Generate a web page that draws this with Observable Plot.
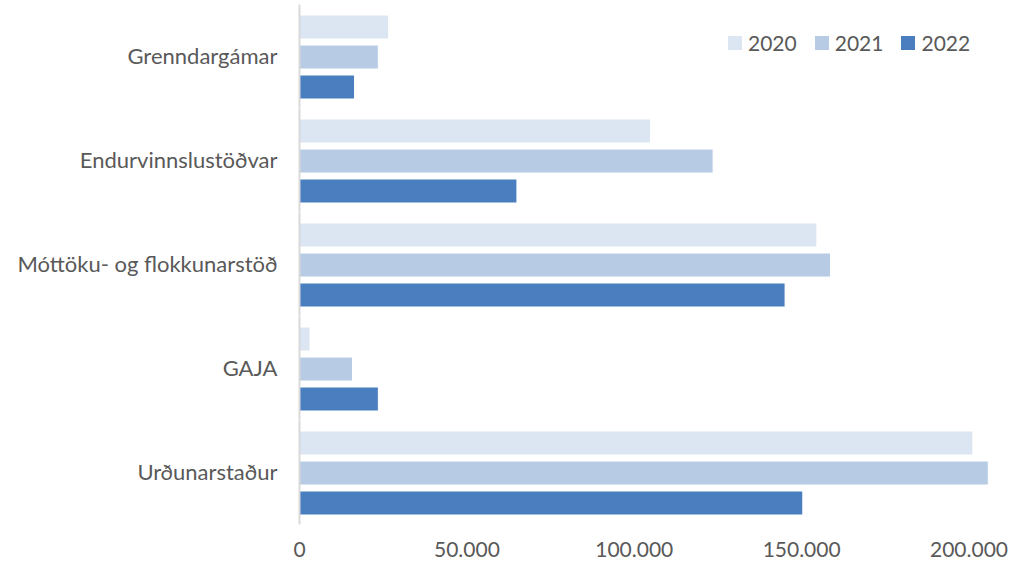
<!DOCTYPE html>
<html><head><meta charset="utf-8">
<script src="https://cdn.jsdelivr.net/npm/d3@7"></script>
<script src="https://cdn.jsdelivr.net/npm/@observablehq/plot@0.6"></script>
<style>
body{margin:0;background:#fff;font-family:Lato,"Open Sans",sans-serif;}
#wrap{position:relative;width:1019px;height:569px;overflow:hidden;}
#legend{position:absolute;left:728px;top:31px;display:flex;align-items:center;font-size:21px;color:#595959;line-height:24px;}
#legend .item{display:flex;align-items:center;margin-right:18px;}
#legend .sw{width:14px;height:14px;margin-right:6px;}
</style></head><body>
<div id="wrap"><div id="chart"></div><div id="legend"></div></div>
<script>
const categories = ["Grenndargámar","Endurvinnslustöðvar","Móttöku- og flokkunarstöð","GAJA","Urðunarstaður"];
const years = ["2020","2021","2022"];
const v2020 = [26800,105000,154700,3300,201300];
const v2021 = [23700,123700,158800,16000,205900];
const v2022 = [16600,65100,145200,23700,150500];
const xTicks = [0,50000,100000,150000,200000];
const colors = ["#DCE6F2","#B7CCE4","#4A7EBF"];

const series = [v2020, v2021, v2022];
const data = [];
categories.forEach((c, i) => years.forEach((y, j) => data.push({category: c, year: y, value: series[j][i]})));

const loc = d3.formatLocale({decimal: ",", thousands: ".", grouping: [3], currency: ["", ""]});
const fmt = loc.format(",.0f");

const chart = Plot.plot({
  width: 1019, height: 569,
  marginLeft: 299, marginRight: 17, marginTop: 5, marginBottom: 44,
  style: {fontFamily: "Lato, 'Open Sans', sans-serif", fontSize: "21px", color: "#595959", background: "white"},
  x: {domain: [0, 210000], axis: null},
  fy: {domain: categories, paddingInner: 0.18, paddingOuter: 0.09, label: null, axis: null},
  y: {domain: years, paddingInner: 0.21, paddingOuter: 0, axis: null},
  color: {domain: years, range: colors},
  marks: [
    Plot.barX(data, {x: "value", y: "year", fy: "category", fill: "year", stroke: "white", strokeWidth: 1}),
    Plot.axisFy({anchor: "left", tickSize: 0, tickPadding: 22, label: null, fontSize: 22, fill: "#595959"}),
    Plot.axisX({ticks: xTicks, tickFormat: fmt, tickSize: 0, tickPadding: 27, label: null, fontSize: 21, fill: "#595959"}),
    Plot.ruleX([0], {stroke: "#D9D9D9", strokeWidth: 2, insetTop: -9.4, insetBottom: -9.4})
  ]
});
document.getElementById("chart").appendChild(chart);

const legend = document.getElementById("legend");
years.forEach((y, j) => {
  const it = document.createElement("div");
  it.className = "item";
  const sw = document.createElement("div");
  sw.className = "sw";
  sw.style.background = colors[j];
  const t = document.createElement("span");
  t.textContent = y;
  it.appendChild(sw); it.appendChild(t);
  legend.appendChild(it);
});
</script>
</body></html>
